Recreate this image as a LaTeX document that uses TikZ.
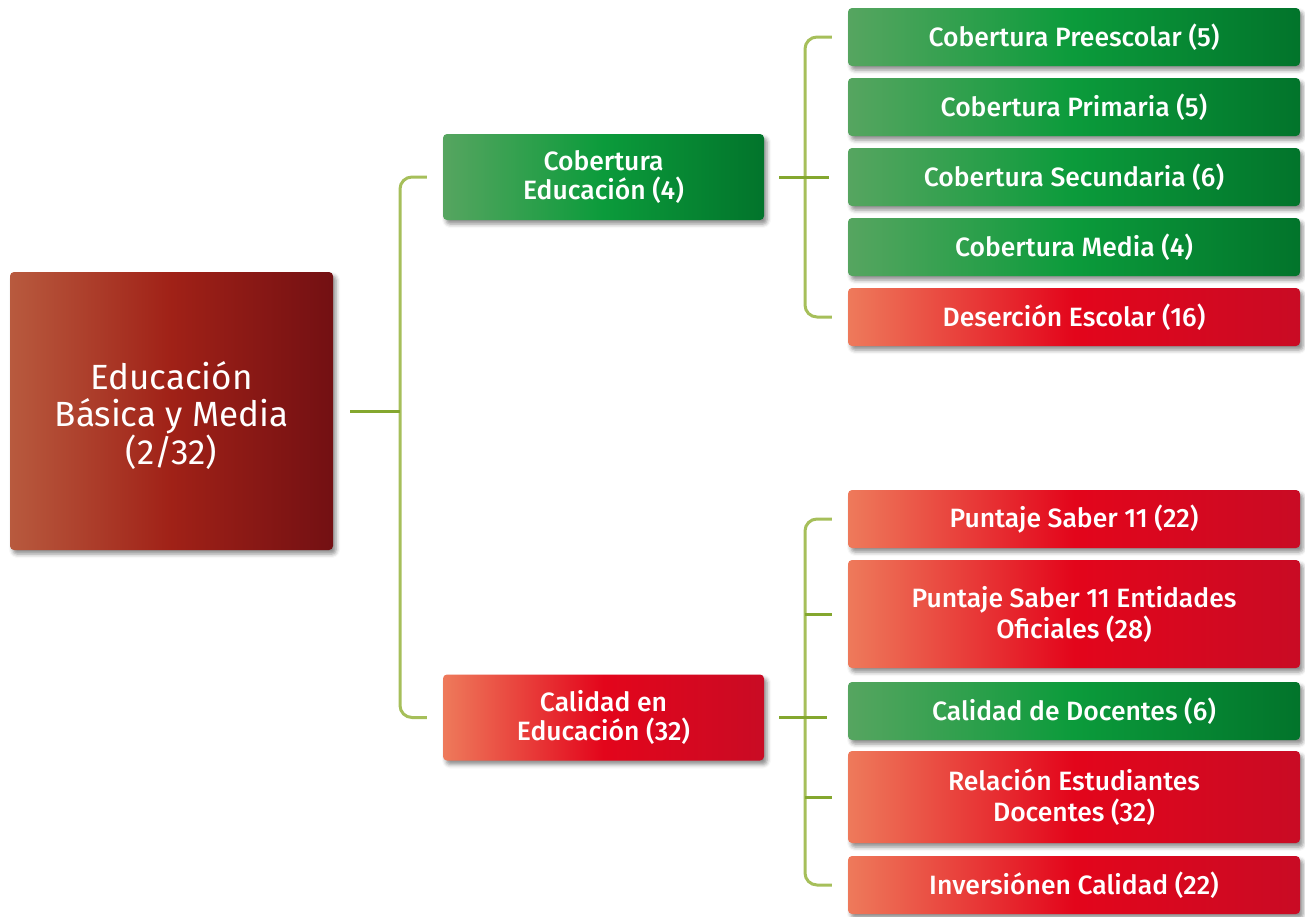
\documentclass[tikz,border=0pt]{standalone}
\usepackage{fontspec}
\setmainfont{Fira Sans}
\newfontfamily\medfont{Fira Sans Medium}
\usetikzlibrary{shadows.blur}
\definecolor{gA}{HTML}{56A560}
\definecolor{gB}{HTML}{0B9B3B}
\definecolor{gC}{HTML}{02742B}
\definecolor{rA}{HTML}{EE7A5B}
\definecolor{rB}{HTML}{E3051B}
\definecolor{rC}{HTML}{C90B24}
\definecolor{dA}{HTML}{B85A3E}
\definecolor{dB}{HTML}{A02117}
\definecolor{dC}{HTML}{731013}
\definecolor{brc}{HTML}{A6BF5A}
\definecolor{stc}{HTML}{84A72F}
\begin{document}
\begin{tikzpicture}[x=1pt,y=-1pt,
  box/.style={rounded corners=4pt, text=white, align=center, inner sep=0pt,
    blur shadow={shadow xshift=3pt, shadow yshift=-4pt, shadow blur radius=4pt, shadow opacity=45}},
  small/.style={font=\medfont\fontsize{26.5}{31}\selectfont, minimum width=452pt},
  midf/.style={font=\medfont\fontsize{26.5}{29}\selectfont, minimum width=321pt, minimum height=86pt},
  gbox/.style={box, left color=gA, right color=gC, middle color=gB},
  rbox/.style={box, left color=rA, right color=rC, middle color=rB},
  dbox/.style={box, left color=dA, right color=dC, middle color=dB},
  br/.style={draw=brc, line width=3pt, rounded corners=12pt},
  stub/.style={draw=stc, line width=3pt}]
\useasboundingbox (0,0) rectangle (1305,916);

\node[dbox, minimum width=323pt, minimum height=278pt, font=\fontsize{35}{36.5}\selectfont] (root) at (171.5,411) {\rule{0pt}{37pt}Educación\\Básica y Media\\(2/32)};

\node[gbox, midf] (m1) at (603.5,177) {Cobertura\\Educación (4)};
\node[rbox, midf] (m2) at (603.5,717.5) {Calidad en\\Educación (32)};

\node[gbox, small, minimum height=58pt] (a1) at (1074,37) {Cobertura Preescolar (5)};
\node[gbox, small, minimum height=58pt] (a2) at (1074,107) {Cobertura Primaria (5)};
\node[gbox, small, minimum height=58pt] (a3) at (1074,177) {Cobertura Secundaria (6)};
\node[gbox, small, minimum height=58pt] (a4) at (1074,247) {Cobertura Media (4)};
\node[rbox, small, minimum height=58pt] (a5) at (1074,317) {Deserción Escolar (16)};

\node[rbox, small, minimum height=58pt] (a6) at (1074,519) {Puntaje Saber 11 (22)};
\node[rbox, small, minimum height=108pt] (a7) at (1074,614) {Puntaje Saber 11 Entidades\\Oficiales (28)};
\node[gbox, small, minimum height=58pt] (a8) at (1074,711) {Calidad de Docentes (6)};
\node[rbox, small, minimum height=92pt] (a9) at (1074,797) {Relación Estudiantes\\Docentes (32)};
\node[rbox, small, minimum height=58pt] (a10) at (1074,885) {Inversiónen Calidad (22)};

\coordinate (L) at (400,411);
\coordinate (R1) at (805,177);
\coordinate (R2) at (805,717.5);

% left bracket
\draw[br] ([xshift=-16pt]m1.west) -- (m1.west -| L) -- (m2.west -| L) -- ([xshift=-16pt]m2.west);
\draw[stub] ([xshift=17pt]root.east) -- (L);

% upper right bracket
\draw[br] ([xshift=-16pt]a1.west) -- (a1.west -| R1) -- (a5.west -| R1) -- ([xshift=-16pt]a5.west);
\draw[stub] ([xshift=15pt]m1.east) -- ([xshift=24pt]R1);

% lower right bracket
\draw[br] ([xshift=-16pt]a6.west) -- (a6.west -| R2) -- (a10.west -| R2) -- ([xshift=-16pt]a10.west);
\draw[stub] ([xshift=15pt]m2.east) -- ([xshift=22pt]R2);
\draw[stub] (a7.west -| R2) -- ([xshift=-16pt]a7.west);
\draw[stub] (a9.west -| R2) -- ([xshift=-16pt]a9.west);
\end{tikzpicture}
\end{document}
